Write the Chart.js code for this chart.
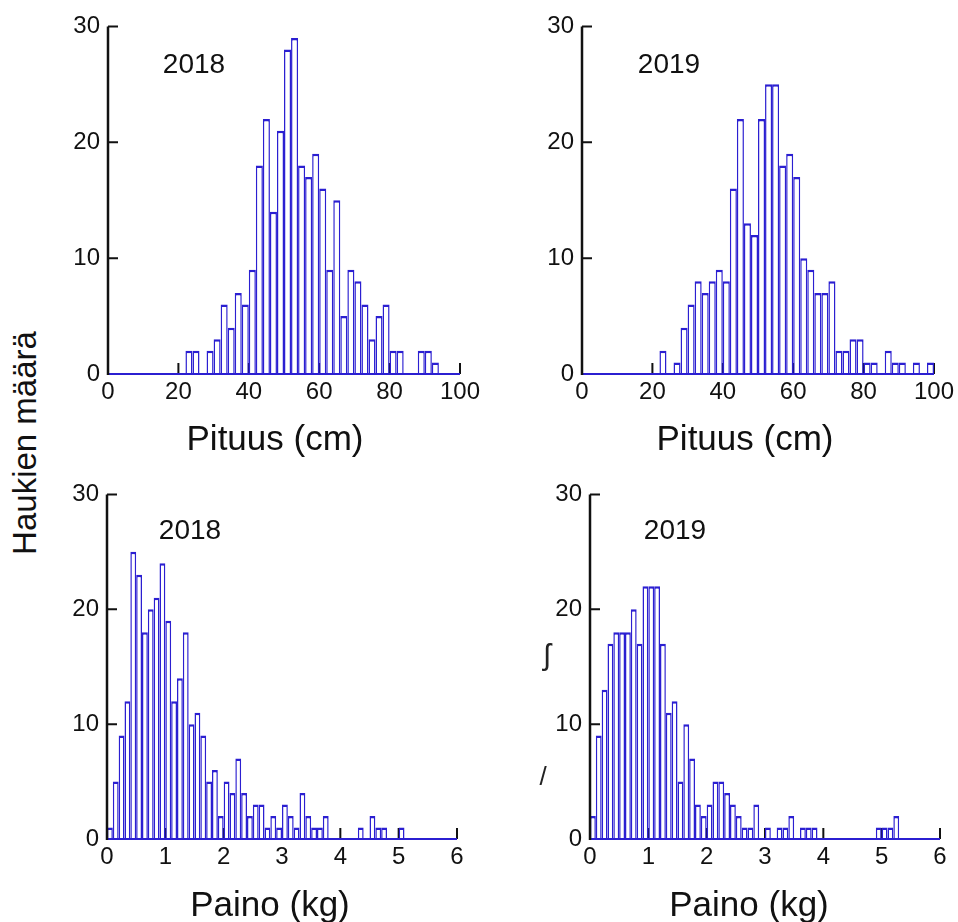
<!DOCTYPE html>
<html><head><meta charset="utf-8">
<script src="https://cdn.jsdelivr.net/npm/chart.js@4.4.1/dist/chart.umd.min.js"></script>
<style>
html,body{margin:0;padding:0;background:#fff;}
body{width:958px;height:922px;position:relative;overflow:hidden;font-family:"Liberation Sans",Arial,sans-serif;}
canvas{position:absolute;}
.t{position:absolute;color:#111;white-space:nowrap;transform:translate(-50%,-50%);line-height:1;}
</style></head><body>
<canvas id="c1" width="437" height="415" style="left:48px;top:4px"></canvas>
<canvas id="c2" width="437" height="415" style="left:522px;top:4px"></canvas>
<canvas id="c3" width="435" height="412" style="left:47px;top:472px"></canvas>
<canvas id="c4" width="435" height="412" style="left:530px;top:472px"></canvas>

<div class="t" style="left:194px;top:64px;font-size:28px">2018</div>
<div class="t" style="left:669px;top:64px;font-size:28px">2019</div>
<div class="t" style="left:190px;top:530px;font-size:28px">2018</div>
<div class="t" style="left:675px;top:530px;font-size:28px">2019</div>
<div class="t" style="left:275px;top:437px;font-size:35px">Pituus (cm)</div>
<div class="t" style="left:745px;top:437px;font-size:35px">Pituus (cm)</div>
<div class="t" style="left:270px;top:903px;font-size:35px">Paino (kg)</div>
<div class="t" style="left:749px;top:903px;font-size:35px">Paino (kg)</div>
<div class="t" style="left:24px;top:443px;font-size:33px;transform:translate(-50%,-50%) rotate(-90deg)">Haukien määrä</div>
<div class="t" style="left:547px;top:655px;font-size:30px;color:#222">ʃ</div>
<div class="t" style="left:543px;top:776px;font-size:26px;color:#222">/</div>

<script>
// ---- data ----
const lengthBins = [22,24,26,28,30,32,34,36,38,40,42,44,46,48,50,52,54,56,58,60,62,64,66,68,70,72,74,76,78,80,82,84,86,88,90,92,94,96,98];
const lengthBinWidth = 2;
const length2018 = [2,2,0,2,3,6,4,7,6,9,18,22,14,21,28,29,18,17,19,16,9,15,5,9,8,6,3,5,6,2,2,0,0,2,2,1,0,0,0];
const length2019 = [2,0,1,4,6,8,7,8,9,8,16,22,13,12,22,25,25,18,19,17,10,9,7,7,8,2,2,3,3,1,1,0,2,1,1,0,1,0,1];

const weightBins = [0.0,0.1,0.2,0.3,0.4,0.5,0.6,0.7,0.8,0.9,1.0,1.1,1.2,1.3,1.4,1.5,1.6,1.7,1.8,1.9,2.0,2.1,2.2,2.3,2.4,2.5,2.6,2.7,2.8,2.9,3.0,3.1,3.2,3.3,3.4,3.5,3.6,3.7,3.8,3.9,4.0,4.1,4.2,4.3,4.4,4.5,4.6,4.7,4.8,4.9,5.0,5.1,5.2];
const weightBinWidth = 0.1;
const weight2018 = [1,5,9,12,25,23,18,20,21,24,19,12,14,18,10,11,9,5,6,2,5,4,7,4,2,3,3,1,2,1,3,2,1,4,2,1,1,2,0,0,0,0,0,1,0,2,1,1,0,0,1,0,0];
const weight2019 = [2,9,13,17,18,18,18,20,17,22,22,22,17,11,12,5,10,7,3,2,3,5,5,4,3,2,1,1,3,0,1,0,1,1,2,0,1,1,1,0,0,0,0,0,0,0,0,0,0,1,1,1,2];

const yTicksMax = 30, yStep = 10;
const lengthMax = 100, lengthStep = 20;
const weightMax = 6, weightStep = 1;

// ---- styles ----
const BLUE = '#2b1fd1';
const INK = '#111';
const FONT = '"Liberation Sans", Arial, sans-serif';

const axisMarks = {
  id: 'axisMarks',
  beforeDatasetsDraw(chart) {
    const {ctx, chartArea: a, scales: {x}} = chart;
    ctx.save();
    ctx.strokeStyle = INK; ctx.lineWidth = 2;
    ctx.beginPath();
    x.ticks.forEach(t => {
      const px = x.getPixelForValue(t.value);
      ctx.moveTo(px, a.bottom); ctx.lineTo(px, a.bottom - 11);
    });
    ctx.stroke();
    ctx.restore();
  },
  afterDatasetsDraw(chart) {
    const {ctx, chartArea: a, scales: {y}} = chart;
    ctx.save();
    ctx.strokeStyle = BLUE; ctx.lineWidth = 2;
    ctx.beginPath(); ctx.moveTo(a.left, a.bottom); ctx.lineTo(a.right, a.bottom); ctx.stroke();
    ctx.strokeStyle = INK; ctx.lineWidth = 2.5;
    ctx.beginPath(); ctx.moveTo(a.left, a.top); ctx.lineTo(a.left, a.bottom + 1); ctx.stroke();
    ctx.lineWidth = 2;
    ctx.beginPath();
    y.ticks.forEach(t => {
      if (t.value === 0) return;
      const py = y.getPixelForValue(t.value);
      ctx.moveTo(a.left, py); ctx.lineTo(a.left + 10, py);
    });
    ctx.stroke();
    ctx.restore();
  }
};

function makeChart(id, bins, binWidth, counts, xMax, xStep) {
  return new Chart(document.getElementById(id), {
    type: 'bar',
    data: {
      datasets: [{
        data: bins.map((b, i) => ({x: b + binWidth / 2, y: counts[i]})),
        backgroundColor: '#fff',
        borderColor: BLUE,
        borderWidth: {top: 2.5, left: 1.5, right: 1.5, bottom: 0},
        borderSkipped: 'start',
        barPercentage: 1,
        categoryPercentage: 1,
        inflateAmount: 0
      }]
    },
    options: {
      responsive: false,
      animation: false,
      devicePixelRatio: 1,
      layout: {padding: {left: 0, top: 20, right: 25, bottom: 0}},
      plugins: {legend: {display: false}, tooltip: {enabled: false}},
      scales: {
        x: {
          type: 'linear', min: 0, max: xMax, offset: false,
          grid: {display: false, drawTicks: false},
          border: {display: false},
          ticks: {stepSize: xStep, color: INK, font: {family: FONT, size: 24}, padding: 4, maxRotation: 0, autoSkip: false},
          afterFit(s) { s.height = 45; }
        },
        y: {
          min: 0, max: yTicksMax,
          grid: {display: false, drawTicks: false},
          border: {display: false},
          ticks: {stepSize: yStep, color: INK, font: {family: FONT, size: 24}, padding: 8},
          afterFit(s) { s.width = 60; }
        }
      }
    },
    plugins: [axisMarks]
  });
}

makeChart('c1', lengthBins, lengthBinWidth, length2018, lengthMax, lengthStep);
makeChart('c2', lengthBins, lengthBinWidth, length2019, lengthMax, lengthStep);
makeChart('c3', weightBins, weightBinWidth, weight2018, weightMax, weightStep);
makeChart('c4', weightBins, weightBinWidth, weight2019, weightMax, weightStep);
</script>
</body></html>
